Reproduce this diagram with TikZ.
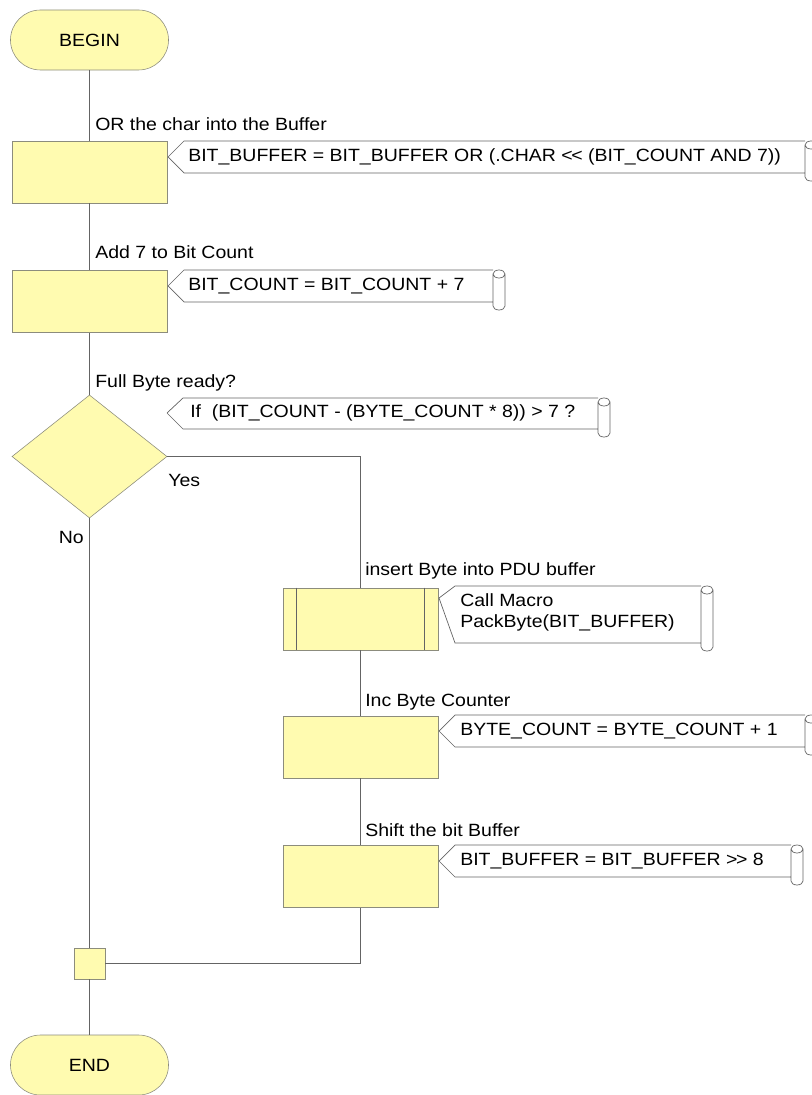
\documentclass[tikz,border=0pt]{standalone}
\usepackage{fontspec}
\setmainfont{Liberation Sans}[FakeStretch=1.10]
\usetikzlibrary{positioning,shapes.geometric}

\definecolor{boxfill}{RGB}{255,251,176}
\definecolor{boxline}{RGB}{140,140,125}
\definecolor{flowline}{RGB}{100,100,100}

\tikzset{
  txt/.style={font=\fontsize{12.6}{15}\selectfont, inner sep=0pt},
  term/.style={draw=boxline, fill=boxfill, rounded corners=0.75cm,
    minimum width=3.95cm, minimum height=1.5cm, txt},
  proc/.style={draw=boxline, fill=boxfill, minimum width=3.875cm,
    minimum height=1.55cm, inner sep=0pt},
  decide/.style={draw=boxline, fill=boxfill, diamond, inner sep=0pt,
    minimum width=3.875cm, minimum height=3.075cm},
  junct/.style={draw=boxline, fill=boxfill, minimum size=0.775cm, inner sep=0pt},
  flow/.style={draw=flowline, line width=0.5pt},
  memoline/.style={draw=flowline, line width=0.5pt},
}

% Notiz mit Pfeilspitze links und Rolle rechts
% #1 Spitze x, #2 Spitze y, #3 oben, #4 unten, #5 Rolle x
\newcommand{\memo}[5]{%
  \draw[memoline] (#1,#2) -- ({#1+16},#3) -- (#5,#3)
    (#1,#2) -- ({#1+16},#4) -- (#5,#4)
    ({#5+6},{#3+4}) ellipse [x radius=6, y radius=4]
    (#5,{#3+4}) -- (#5,{#4+4})
      arc [start angle=180, end angle=0, x radius=6, y radius=4]
      -- ({#5+12},{#3+4});
}

\begin{document}
\begin{tikzpicture}[x=0.025cm, y=-0.025cm]
  \useasboundingbox (0,0) rectangle (811,1095);

  % Start
  \node[term] (begin) at (89.5,40) {BEGIN};

  % Zeichen in den Puffer
  \node[proc] (orchar) at (89.5,172) {};
  \node[txt, anchor=base west] (lorchar) at (95,131) {OR the char into the Buffer};
  \memo{168}{157}{141}{173}{805}
  \node[txt, anchor=west] (morchar) at (188,157)
    {BIT\_BUFFER = BIT\_BUFFER OR (.CHAR <\kern-1pt< (BIT\_COUNT AND 7))};

  % Bitzaehler
  \node[proc] (addbits) at (89.5,301.5) {};
  \node[txt, anchor=base west] (laddbits) at (95,259) {Add 7 to Bit Count};
  \memo{168}{286}{270}{302}{493}
  \node[txt, anchor=west] (maddbits) at (188,286) {BIT\_COUNT = BIT\_COUNT + 7};

  % Abfrage
  \node[decide] (ready) at (89.5,456.5) {};
  \node[txt, anchor=base west] (lready) at (95,387) {Full Byte ready?};
  \memo{167}{413}{398}{429}{598}
  \node[txt, anchor=west] (mready) at (190,413)
    {If\ \ (BIT\_COUNT - (BYTE\_COUNT * 8)) > 7 ?};
  \node[txt, anchor=base west] (lyes) at (168,486) {Yes};
  \node[txt, anchor=base east] (lno) at (84,543) {No};

  % Makro aufrufen
  \node[proc] (pack) at (360.5,619) {};
  \draw[flow] ([xshift=0.35cm]pack.north west) -- ([xshift=0.35cm]pack.south west);
  \draw[flow] ([xshift=-0.35cm]pack.north east) -- ([xshift=-0.35cm]pack.south east);
  \node[txt, anchor=base west] (lpack) at (365,575) {insert Byte into PDU buffer};
  \memo{439}{598}{586}{643}{701}
  \node[txt, anchor=west] (mpack1) at (460,600) {Call Macro};
  \node[txt, anchor=west] (mpack2) at (460,623) {PackByte(BIT\_BUFFER)};

  % Bytezaehler
  \node[proc] (incbyte) at (360.5,747) {};
  \node[txt, anchor=base west] (lincbyte) at (365,706) {Inc Byte Counter};
  \memo{439}{731}{715}{747}{805}
  \node[txt, anchor=west] (mincbyte) at (460,731) {BYTE\_COUNT = BYTE\_COUNT + 1};

  % Puffer schieben
  \node[proc] (shift) at (360.5,876.5) {};
  \node[txt, anchor=base west] (lshift) at (365,836) {Shift the bit Buffer};
  \memo{439}{861}{845}{877}{791}
  \node[txt, anchor=west] (mshift) at (460,861) {BIT\_BUFFER = BIT\_BUFFER >\kern-1pt> 8};

  % Zusammenfuehrung und Ende
  \node[junct] (join) at (89.5,963.5) {};
  \node[term] (end) at (89.5,1065) {END};

  % Verbindungen
  \draw[flow] (begin) -- (orchar);
  \draw[flow] (orchar) -- (addbits);
  \draw[flow] (addbits) -- (ready);
  \draw[flow] (ready.east) -| (pack.north);
  \draw[flow] (pack) -- (incbyte);
  \draw[flow] (incbyte) -- (shift);
  \draw[flow] (shift.south) |- (join.east);
  \draw[flow] (ready.south) -- (join.north);
  \draw[flow] (join) -- (end);
\end{tikzpicture}
\end{document}
